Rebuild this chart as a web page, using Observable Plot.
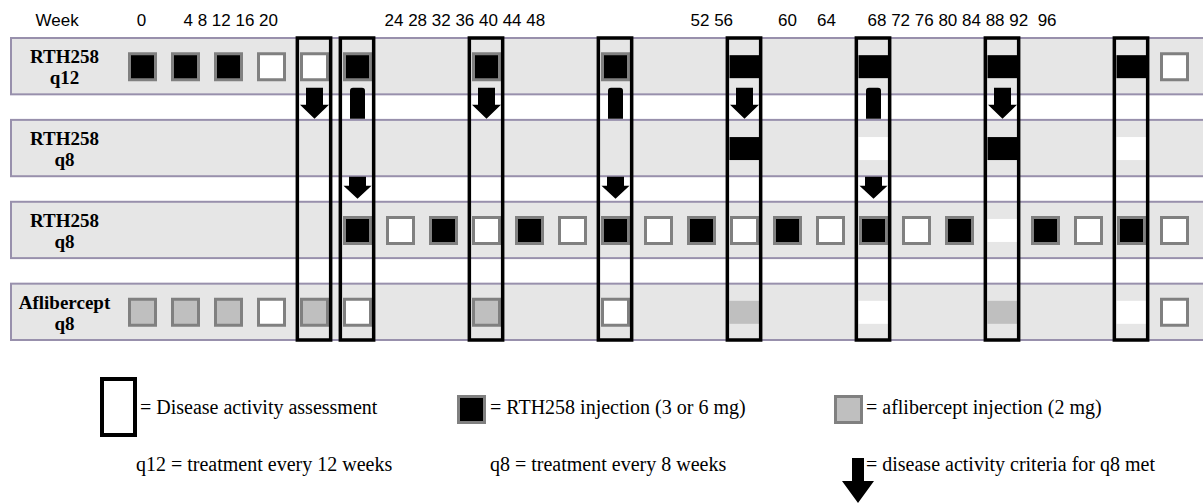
<!DOCTYPE html>
<html>
<head>
<meta charset="utf-8">
<script src="https://cdn.jsdelivr.net/npm/d3@7"></script>
<script src="https://cdn.jsdelivr.net/npm/@observablehq/plot@0.6"></script>
<style>
  body { margin: 0; background: #fff; }
  #chart { width: 1203px; }
  g[aria-label="week header"] text { word-spacing: 4px; }
</style>
</head>
<body>
<div id="chart"></div>
<script>
// ---------- data ----------
const rows = ["RTH258\nq12", "RTH258\nq8", "RTH258\nq8", "Aflibercept\nq8"];

const headerLabels = ["0", "4 8 12 16 20", "24 28 32 36 40 44 48", "52 56", "60", "64", "68 72 76 80 84 88 92  96"];
const headerWeeks  = [0, 4, 24, 52, 60, 64, 68];

const assessmentWeeks = [16, 20, 32, 44, 56, 68, 80, 92];

const q12Weeks = [0, 4, 8, 12, 16, 20, 32, 44, 56, 68, 80, 92, 96];
const q12Kinds = ["rth", "rth", "rth", "visit", "visit", "rth", "rth", "rth", "rthBlock", "rthBlock", "rthBlock", "rthBlock", "visit"];

const q8aWeeks = [56, 68, 80, 92];
const q8aKinds = ["rthBlock", "blank", "rthBlock", "blank"];

const q8bWeeks = [20, 24, 28, 32, 36, 40, 44, 48, 52, 56, 60, 64, 68, 72, 76, 80, 84, 88, 92, 96];
const q8bKinds = ["rth", "visit", "rth", "visit", "rth", "visit", "rth", "visit", "rth", "visit",
                  "rth", "visit", "rth", "visit", "rth", "blank", "rth", "visit", "rth", "visit"];

const aflWeeks = [0, 4, 8, 12, 16, 20, 32, 44, 56, 68, 80, 92, 96];
const aflKinds = ["afl", "afl", "afl", "visit", "afl", "visit", "afl", "visit", "aflBlock", "blank", "aflBlock", "blank", "visit"];

const q8MetWeeks    = [16, 32, 56, 80];   // full arrows below the q12 row
const q8MetBarWeeks = [20, 44, 68];       // truncated arrows below the q12 row
const q8SwitchWeeks = [20, 44, 68];       // arrows into the lower RTH258 q8 row

const legendTexts = [
  "= Disease activity assessment",
  "= RTH258 injection (3 or 6 mg)",
  "= aflibercept injection (2 mg)",
  "q12 = treatment every 12 weeks",
  "q8 = treatment every 8 weeks",
  "= disease activity criteria for q8 met"
];

// ---------- layout / style ----------
const headerNudge  = [-1, -2, -16, -11, 0, -4, -6];   // label offsets (px)
const serif = "'Liberation Serif','Times New Roman',serif";
const sans = "'Liberation Sans',Arial,sans-serif";
const purple = "#9890ac";
const borderGray = "#808080";
const H = 0.344; // half height of a row lane in row units

// ---------- build tables ----------
const schedule = [
  {row: 0, weeks: q12Weeks, kinds: q12Kinds},
  {row: 1, weeks: q8aWeeks, kinds: q8aKinds},
  {row: 2, weeks: q8bWeeks, kinds: q8bKinds},
  {row: 3, weeks: aflWeeks, kinds: aflKinds}
];
const visits = schedule.flatMap(s => s.weeks.map((w, i) => ({row: s.row, week: w, kind: s.kinds[i]})));
const rowTable = rows.map((label, i) => ({label, i}));
const header = headerLabels.map((t, i) => ({t, w: headerWeeks[i], i}));

// ---------- symbols ----------
const rectSym = (w, h) => ({draw(c) { c.rect(-w / 2, -h / 2, w, h); }});
const arrowSym = (top, neck, tip, sh, hh) => ({draw(c) {
  c.moveTo(-sh, top); c.lineTo(sh, top); c.lineTo(sh, neck); c.lineTo(hh, neck);
  c.lineTo(0, tip); c.lineTo(-hh, neck); c.lineTo(-sh, neck); c.closePath();
}});
const barSym = (top, bottom, half, r) => ({draw(c) {
  c.moveTo(-half, bottom); c.lineTo(-half, top + r); c.arcTo(-half, top, -half + r, top, r);
  c.lineTo(half - r, top); c.arcTo(half, top, half, top + r, r); c.lineTo(half, bottom); c.closePath();
}});

const square = rectSym(26, 26);
const block = rectSym(30, 23);
const squareMark = (kind, fill) => Plot.dot(visits.filter(d => d.kind === kind), {
  x: "week", y: "row", symbol: square, fill, stroke: borderGray, strokeWidth: 3
});
const blockMark = (kind, fill) => Plot.dot(visits.filter(d => d.kind === kind), {
  x: "week", y: "row", symbol: block, fill, stroke: "none"
});

const headerMarks = header.map((d, i) => Plot.text([d], {
  x: "w", text: "t", frameAnchor: "top", dy: -18, dx: headerNudge[i],
  textAnchor: d.t.includes(" ") ? "start" : "middle", lineAnchor: "middle",
  fontFamily: sans, fontSize: 17, fill: "black", ariaLabel: "week header"
}));

const chart = Plot.plot({
  width: 1203,
  height: 345,
  marginLeft: 142, marginRight: 29, marginTop: 38, marginBottom: 5,
  x: {domain: [0, 96], axis: null},
  y: {domain: [-H, 3 + H], reverse: true, axis: null},
  marks: [
    // lanes
    Plot.rect(rowTable, {y1: d => d.i - H, y2: d => d.i + H, fill: "#e6e6e6", stroke: purple, strokeWidth: 2, insetLeft: -131, insetRight: -35}),
    // header
    Plot.text(["Week"], {frameAnchor: "top-left", dx: -107, dy: -18, text: d => d, textAnchor: "start", lineAnchor: "middle", fontFamily: sans, fontSize: 17, fill: "black"}),
    ...headerMarks,
    // row labels
    Plot.text(rowTable, {y: "i", text: "label", frameAnchor: "left", dx: -78, textAnchor: "middle", lineAnchor: "middle", lineHeight: 1.12, fontFamily: serif, fontWeight: "bold", fontSize: 19, fill: "black"}),
    // visits
    squareMark("rth", "black"),
    squareMark("visit", "white"),
    squareMark("afl", "#bfbfbf"),
    blockMark("rthBlock", "black"),
    blockMark("blank", "white"),
    blockMark("aflBlock", "#bfbfbf"),
    // assessment frames
    Plot.rect(assessmentWeeks, {x1: d => d - 1.55, x2: d => d + 1.55, y1: -H, y2: 3 + H, fill: "none", stroke: "black", strokeWidth: 3.5}),
    // arrows
    Plot.dot(q8MetWeeks, {x: d => d, y: H, symbol: arrowSym(-7, 10, 24, 8.5, 14.5), fill: "black", stroke: "none"}),
    Plot.dot(q8MetBarWeeks, {x: d => d, y: H, symbol: barSym(-7, 24, 7.5, 3), fill: "black", stroke: "none"}),
    Plot.dot(q8SwitchWeeks, {x: d => d, y: 1 + H, symbol: arrowSym(0, 9, 22, 8.5, 14), fill: "black", stroke: "none"})
  ]
});
document.getElementById("chart").append(chart);

// ---------- legend ----------
const legend = d3.create("svg").attr("width", 1203).attr("height", 159).style("display", "block")
  .attr("font-family", serif).attr("font-size", 20);
legend.append("rect").attr("x", 102).attr("y", 34).attr("width", 33).attr("height", 56)
  .attr("fill", "none").attr("stroke", "black").attr("stroke-width", 4);
legend.append("rect").attr("x", 458.5).attr("y", 51.5).attr("width", 26).attr("height", 26)
  .attr("fill", "black").attr("stroke", borderGray).attr("stroke-width", 3);
legend.append("rect").attr("x", 835.5).attr("y", 51.5).attr("width", 26).attr("height", 26)
  .attr("fill", "#bfbfbf").attr("stroke", borderGray).attr("stroke-width", 3);
legend.append("path").attr("d", "M852,113H864V136H874L858,158L842,136H852Z").attr("fill", "black");
const legendPos = [[140, 69], [490, 69], [866, 69], [136, 126], [490, 126], [866, 126]];
legendTexts.forEach((t, i) => {
  legend.append("text").attr("x", legendPos[i][0]).attr("y", legendPos[i][1]).attr("fill", "black").text(t);
});
document.getElementById("chart").append(legend.node());
</script>
</body>
</html>
